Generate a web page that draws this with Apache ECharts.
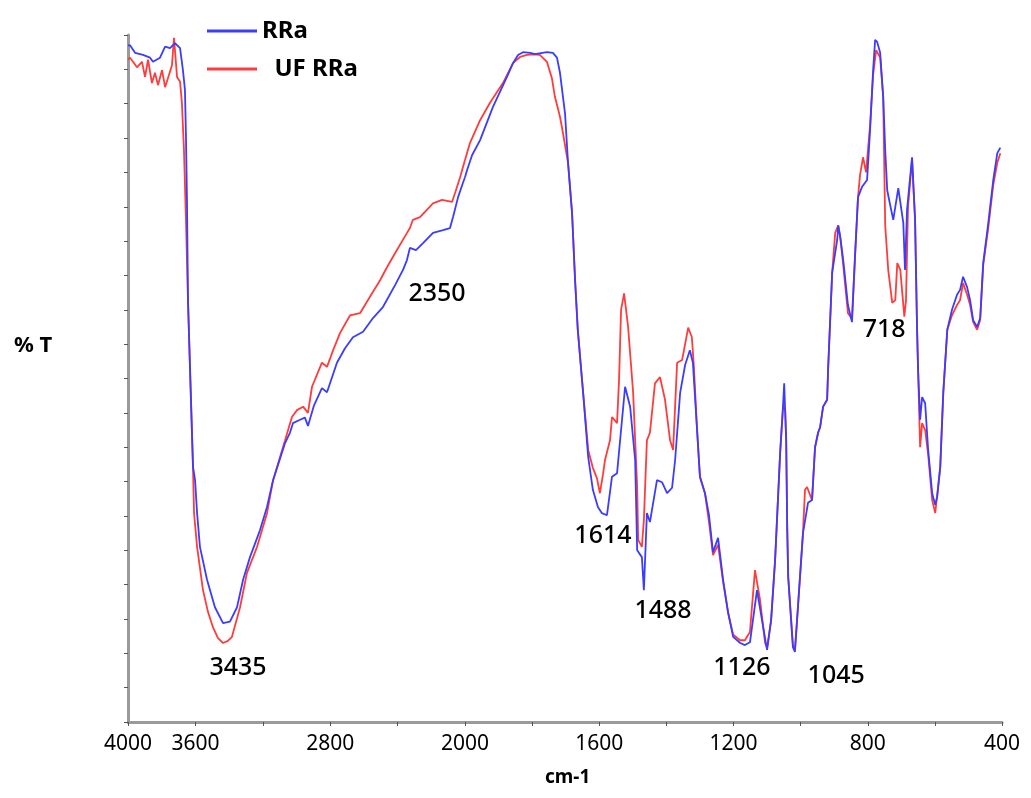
<!DOCTYPE html>
<html><head><meta charset="utf-8">
<script src="https://cdn.jsdelivr.net/npm/echarts@6/dist/echarts.min.js"></script>
<style>html,body{margin:0;padding:0;background:#fff}#c{width:1031px;height:798px}</style>
</head><body><div id="c"></div><script>
// [wavenumber cm-1, %T (relative)]
const rraPoints = [[4000,98.5],[3988,98.5],[3958,97.4],[3911,97.1],[3869,96.7],[3852,96.1],[3810,96.7],[3780,98.3],[3751,98.1],[3721,98.8],[3691,98.1],[3674,94.9],[3662,92.0],[3656,85.2],[3650,76.0],[3644,61.4],[3632,51.7],[3614,37.1],[3602,35.2],[3590,30.4],[3573,25.5],[3531,20.7],[3484,16.7],[3436,14.4],[3395,14.6],[3353,16.7],[3317,20.7],[3276,24.0],[3217,27.9],[3175,31.3],[3139,35.2],[3068,40.6],[3039,42.1],[3021,43.5],[2979,44.0],[2950,44.3],[2932,43.1],[2896,46.1],[2849,48.6],[2819,48.0],[2760,52.3],[2712,54.4],[2665,56.0],[2605,56.8],[2546,58.8],[2487,60.4],[2415,63.6],[2368,65.8],[2345,67.2],[2327,69.0],[2291,68.7],[2249,69.7],[2190,71.2],[2130,71.6],[2089,71.9],[2071,73.5],[2041,76.4],[2012,78.5],[2000,79.3],
[1994,80.3],[1979,82.5],[1955,84.7],[1917,89.5],[1875,93.9],[1857,95.9],[1842,97.1],[1827,97.5],[1806,97.4],[1791,97.2],[1756,97.5],[1738,97.4],[1726,96.7],[1717,94.5],[1702,88.6],[1693,81.4],[1681,74.1],[1672,64.3],[1664,57.1],[1648,47.9],[1633,38.6],[1619,33.8],[1604,31.3],[1592,30.4],[1577,30.1],[1562,35.7],[1547,36.2],[1535,42.5],[1523,48.8],[1508,45.9],[1493,38.1],[1487,25.0],[1473,24.0],[1467,19.2],[1458,30.4],[1449,29.1],[1428,35.2],[1413,34.9],[1398,33.3],[1383,34.1],[1374,38.1],[1359,47.9],[1344,52.0],[1330,54.1],[1321,52.3],[1309,42.9],[1300,35.7],[1285,33.3],[1273,30.1],[1261,24.7],[1246,26.8],[1231,20.7],[1216,15.9],[1201,12.4],[1180,11.5],[1166,11.2],[1151,11.6],[1130,19.2],[1115,14.8],[1100,10.5],[1088,14.8],[1076,23.6],[1061,39.2],[1052,46.4],[1049,49.3],[1043,41.0],[1040,28.4],[1037,21.1],[1023,10.9],[1017,10.2],[1008,16.7],[993,27.5],[978,31.9],[966,32.3],[957,40.0],[948,42.1],[942,42.9],[933,45.9],[921,46.9],[918,51.5],[906,65.4],[891,70.2],[888,72.3],[882,70.6],[873,67.2],[859,60.7],[847,58.2],[838,67.7],[829,76.4],[817,77.9],[802,78.9],[793,86.2],[784,94.9],[778,99.3],[772,99.0],[763,97.4],[754,91.0],[748,83.3],[742,77.4],[733,75.2],[724,73.1],[709,77.7],[694,72.6],[689,65.8],[683,74.5],[668,82.2],[659,73.1],[653,57.1],[650,51.2],[644,44.0],[638,47.3],[629,46.4],[620,39.6],[608,33.3],[599,31.6],[593,32.8],[584,37.1],[575,47.9],[563,57.1],[549,60.0],[534,62.2],[525,62.9],[516,64.8],[504,63.3],[495,61.4],[486,58.5],[474,57.5],[465,58.8],[456,66.8],[441,72.6],[426,78.9],[414,82.8],[405,83.6]];

const ufRraPoints = [[4000,96.4],[3988,96.7],[3970,96.1],[3947,95.3],[3917,96.1],[3899,93.9],[3881,96.4],[3858,93.0],[3840,94.5],[3822,92.7],[3798,94.9],[3780,92.4],[3763,93.7],[3739,95.6],[3727,99.6],[3709,93.9],[3691,93.2],[3680,90.1],[3668,83.3],[3656,73.1],[3644,61.4],[3632,51.2],[3614,36.7],[3608,30.4],[3590,25.5],[3555,19.2],[3525,16.0],[3496,13.8],[3466,12.2],[3436,11.5],[3407,11.8],[3383,12.4],[3335,16.7],[3294,21.7],[3234,25.5],[3175,30.4],[3139,35.2],[3068,41.0],[3027,44.4],[2997,45.4],[2961,45.9],[2932,45.0],[2908,48.8],[2849,52.3],[2819,51.7],[2783,54.1],[2742,56.6],[2682,59.2],[2623,59.5],[2564,61.9],[2504,64.3],[2463,66.2],[2404,68.7],[2344,71.2],[2327,71.9],[2309,73.1],[2267,73.5],[2190,75.5],[2136,76.0],[2077,75.7],[2059,77.0],[2029,79.3],[2012,80.8],[2000,81.8],
[1985,84.3],[1955,87.6],[1926,90.1],[1887,93.0],[1857,95.9],[1836,96.8],[1815,97.1],[1797,97.2],[1777,97.1],[1756,96.1],[1741,93.7],[1732,91.0],[1717,88.1],[1708,85.7],[1693,81.4],[1681,74.1],[1672,64.3],[1664,57.1],[1648,47.9],[1633,39.6],[1619,37.0],[1607,35.5],[1598,33.3],[1589,36.0],[1583,38.1],[1568,41.0],[1562,44.4],[1547,43.5],[1541,49.8],[1535,60.0],[1526,62.4],[1514,57.5],[1499,47.9],[1487,34.2],[1484,26.5],[1473,25.5],[1467,29.4],[1458,41.0],[1449,42.1],[1434,49.3],[1419,50.2],[1404,46.9],[1389,41.0],[1380,39.6],[1368,52.3],[1353,52.7],[1335,57.4],[1324,56.0],[1318,51.7],[1309,42.9],[1300,35.7],[1285,33.3],[1273,29.1],[1261,24.3],[1246,25.8],[1231,20.4],[1216,15.9],[1201,12.7],[1180,11.9],[1166,11.9],[1151,13.1],[1136,22.1],[1121,17.8],[1106,11.5],[1100,10.8],[1088,14.8],[1076,23.6],[1061,39.2],[1052,46.1],[1046,45.4],[1043,41.0],[1040,28.4],[1037,21.1],[1023,11.2],[1017,10.5],[1008,16.7],[993,27.5],[987,33.8],[981,34.2],[966,32.3],[957,40.0],[948,42.1],[942,42.9],[933,45.9],[921,46.9],[918,51.5],[906,65.4],[897,71.2],[888,72.3],[882,70.6],[873,66.5],[859,59.5],[847,58.7],[838,67.7],[829,76.4],[823,79.6],[814,82.2],[805,80.0],[793,86.9],[784,94.2],[775,97.8],[763,96.7],[754,91.0],[748,72.3],[739,65.8],[727,61.0],[718,61.4],[712,66.8],[703,65.8],[691,59.0],[686,61.4],[680,75.0],[668,81.8],[659,73.1],[653,57.1],[650,51.2],[644,40.0],[638,43.5],[629,42.5],[620,38.9],[608,32.3],[599,30.4],[593,33.1],[584,37.1],[575,47.9],[563,57.1],[549,59.2],[534,60.7],[525,61.4],[516,63.9],[504,62.2],[495,60.7],[486,58.2],[474,57.1],[465,58.5],[456,66.5],[441,71.9],[426,78.2],[414,81.4],[405,82.8]];

const seriesNames = ['RRa', 'UF RRa'];
const seriesColors = ['#3c3cff', '#ff3c3c'];
const xTickLabels = [4000, 3600, 2800, 2000, 1600, 1200, 800, 400];
// [text, wavenumber, %T] annotation anchors
const peakLabels = [['3435',3347,7.9],['2350',2166,62.3],['1614',1589,27.1],['1488',1410,16.2],['1126',1175,7.9],['1045',894,6.7],['718',751,57.1]];
const SCALE_BREAK = 2000;

const chart = echarts.init(document.getElementById('c'), null, {renderer: 'canvas'});
const FONT = 'Noto Sans';
const axisLine = {show: true, onZero: false, lineStyle: {color: '#9a9a9a', width: 3}};
const axisTick = {show: true, length: 4, lineStyle: {color: '#555', width: 1}};

function xAxis(gi, min, max, interval, hide) {
  return {
    type: 'value', gridIndex: gi, min: min, max: max, interval: interval, inverse: true,
    axisLine: axisLine, axisTick: axisTick, splitLine: {show: false},
    axisLabel: {
      show: true, margin: 12, color: '#000', fontFamily: FONT, fontSize: 21,
      formatter: v => (xTickLabels.includes(v) && !hide.includes(v)) ? String(v) : ''
    }
  };
}

const series = [];
const pointSets = [rraPoints, ufRraPoints];
[1, 0].forEach(i => {
  const pts = pointSets[i];
  const hi = pts.filter(p => p[0] >= SCALE_BREAK);
  const lo = pts.filter(p => p[0] <= SCALE_BREAK);
  [[0, hi], [1, lo]].forEach(([g, d]) => {
    series.push({
      name: seriesNames[i], type: 'line', xAxisIndex: g, yAxisIndex: g, data: d,
      symbol: 'none', showSymbol: false, smooth: false, z: i === 0 ? 4 : 3,
      lineStyle: {color: seriesColors[i], width: 1.8}, itemStyle: {color: seriesColors[i]},
      silent: true
    });
  });
});
[0, 1].forEach(g => {
  const d = peakLabels.filter(a => g === 0 ? a[1] >= SCALE_BREAK : a[1] < SCALE_BREAK)
    .map(a => ({name: a[0], value: [a[1], a[2]]}));
  series.push({
    type: 'scatter', xAxisIndex: g, yAxisIndex: g, data: d, symbolSize: 1, silent: true,
    itemStyle: {color: 'rgba(0,0,0,0)'}, z: 6,
    label: {show: true, position: 'inside', formatter: p => p.name, color: '#000', opacity: 1,
            fontFamily: FONT, fontSize: 25, fontWeight: 500}
  });
});

chart.setOption({
  animation: false,
  backgroundColor: '#fff',
  grid: [
    {left: 128, width: 337, top: 35, bottom: 76},
    {left: 465, right: 29, top: 35, bottom: 76}
  ],
  xAxis: [xAxis(0, 2000, 4000, 400, [2000]), xAxis(1, 400, 2000, 200, [])],
  yAxis: [
    {type: 'value', gridIndex: 0, min: 0, max: 100, interval: 5, position: 'left',
     axisLine: axisLine, axisTick: axisTick, axisLabel: {show: false}, splitLine: {show: false}},
    {type: 'value', gridIndex: 1, min: 0, max: 100, interval: 5, show: false}
  ],
  legend: {
    orient: 'vertical', left: 202, top: 13, itemWidth: 50, itemHeight: 3, itemGap: 12,
    icon: 'rect',
    data: seriesNames, selectedMode: false,
    formatter: n => n === 'UF RRa' ? '  ' + n : n,
    textStyle: {fontFamily: FONT, fontWeight: 'bold', fontSize: 24, color: '#000', lineHeight: 26}
  },
  graphic: [
    {type: 'text', left: 14, top: 335, style: {text: '% T', fontFamily: FONT, fontWeight: 'bold', fontSize: 22, fill: '#000'}},
    {type: 'text', left: 545, top: 768, style: {text: 'cm-1', fontFamily: FONT, fontWeight: 'bold', fontSize: 19, fill: '#000'}}
  ],
  series: series
});
</script></body></html>
